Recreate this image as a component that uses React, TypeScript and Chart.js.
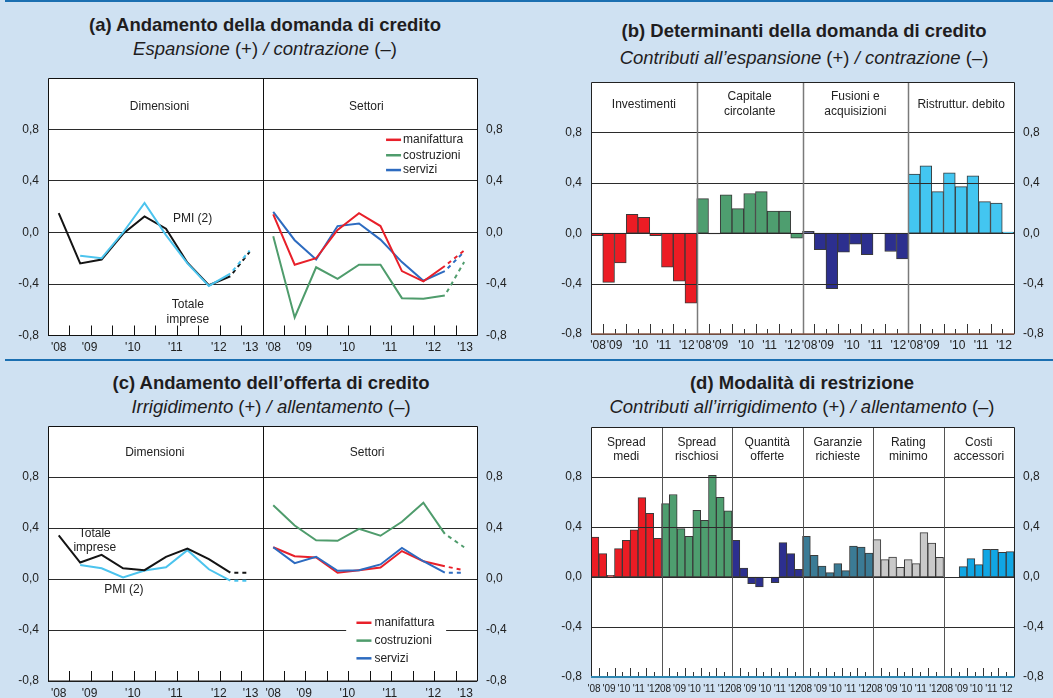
import React, { useEffect, useRef } from 'react';
import { Chart, registerables } from 'chart.js';

Chart.register(...registerables);

const FONT = '"Liberation Sans", Arial, Helvetica, sans-serif';
Chart.defaults.font.family = FONT;
Chart.defaults.font.size = 12;
Chart.defaults.color = '#222';

// ---------------- data ----------------
// half-year observation times (mid-points) and the forecast point
const periods = [2008.25, 2008.75, 2009.25, 2009.75, 2010.25, 2010.75, 2011.25, 2011.75, 2012.25];
const forecastPeriod = 2012.7;

const yTickValues = [-0.8, -0.4, 0, 0.4, 0.8];
const yearLabelsLine = ["'08", "'09", "'10", "'11", "'12", "'13"];
const yearLabelsBar = ["'08", "'09", "'10", "'11", "'12"];

// (a) demand – by size
const demTotale = [0.15, -0.24, -0.21, -0.01, 0.125, 0.03, -0.235, -0.41, -0.34];
const demTotaleForecast = -0.15;
const demPMI = [null, -0.18, -0.2, 0.0, 0.23, -0.02, -0.24, -0.415, -0.32];
const demPMIForecast = -0.14;
// (a) demand – by sector
const demManifattura = [0.14, -0.25, -0.2, 0.02, 0.15, 0.05, -0.3, -0.38, -0.26];
const demManifatturaForecast = -0.14;
const demCostruzioni = [-0.03, -0.66, -0.27, -0.36, -0.25, -0.25, -0.51, -0.515, -0.49];
const demCostruzioniForecast = -0.23;
const demServizi = [0.16, -0.06, -0.21, 0.05, 0.07, -0.055, -0.23, -0.375, -0.3];
const demServiziForecast = -0.15;

// (b) determinants of demand
const detGroupNames = [['Investimenti'], ['Capitale', 'circolante'], ['Fusioni e', 'acquisizioni'], ['Ristruttur. debito']];
const detInvestimenti = [-0.02, -0.39, -0.235, 0.15, 0.125, -0.02, -0.27, -0.38, -0.555];
const detCapitale = [0.275, -0.005, 0.305, 0.195, 0.315, 0.33, 0.175, 0.175, -0.04];
const detFusioni = [0.015, -0.13, -0.44, -0.15, -0.087, -0.17, 0, -0.145, -0.205];
const detRistrutturazione = [0.47, 0.535, 0.33, 0.48, 0.37, 0.455, 0.25, 0.24, 0.008];

// (c) supply – by size
const offTotale = [0.343, 0.13, 0.19, 0.085, 0.07, 0.175, 0.24, 0.157, 0.05];
const offTotaleForecast = 0.05;
const offPMI = [null, 0.11, 0.085, 0.013, 0.067, 0.093, 0.227, 0.077, -0.013];
const offPMIForecast = -0.013;
// (c) supply – by sector
const offManifattura = [0.25, 0.18, 0.17, 0.05, 0.07, 0.09, 0.22, 0.14, 0.1];
const offManifatturaForecast = 0.07;
const offCostruzioni = [0.58, 0.42, 0.305, 0.3, 0.395, 0.34, 0.45, 0.6, 0.355];
const offCostruzioniForecast = 0.25;
const offServizi = [0.25, 0.125, 0.175, 0.065, 0.07, 0.115, 0.245, 0.14, 0.05];
const offServiziForecast = 0.05;

// (d) restriction modes
const resGroupNames = [['Spread', 'medi'], ['Spread', 'rischiosi'], ['Quantità', 'offerte'], ['Garanzie', 'richieste'], ['Rating', 'minimo'], ['Costi', 'accessori']];
const resSpreadMedi = [0.32, 0.187, 0.013, 0.227, 0.293, 0.378, 0.635, 0.51, 0.31];
const resSpreadRischiosi = [0.587, 0.66, 0.387, 0.325, 0.533, 0.453, 0.813, 0.637, 0.53];
const resQuantita = [0.293, 0.072, -0.053, -0.08, null, -0.045, 0.275, 0.187, 0.061];
const resGaranzie = [0.325, 0.173, 0.088, 0.035, 0.107, 0.051, 0.248, 0.24, 0.192];
const resRating = [0.299, 0.139, 0.16, 0.077, 0.139, 0.107, 0.355, 0.272, 0.157];
const resCosti = [null, null, 0.083, 0.147, 0.099, 0.221, 0.221, 0.197, 0.203];

// ---------------- styles ----------------
const BG = '#cfe1f2';
const RULE = '#1b6fb1';
const C_RED = '#e8202a';
const C_GREEN = '#4f9c6c';
const C_BLUE = '#2d6bc0';
const C_PMI = '#4cc4ee';
const C_BLACK = '#141414';

const lineLabelPos = [0.25, 0.97, 1.98, 2.97, 3.98, 4.72];
const barLabelPosB = [0.6, 2.0, 4.2, 6.2, 8.15];
const barLabelPosD = [0.4, 2.3, 4.2, 6.1, 8.0];
const BARS_PER_GROUP = 9;

const fmt = (v: number) => (Math.abs(v) < 1e-9 ? '0,0' : v.toFixed(1).replace('.', ','));

function yScales(leftW: number, rightW: number, grid: boolean) {
  const make = (pos: 'left' | 'right') => ({
    type: 'linear',
    position: pos,
    min: -0.8,
    max: 1.2,
    afterBuildTicks: (s: any) => {
      s.ticks = yTickValues.map((v) => ({ value: v }));
    },
    afterFit: (s: any) => {
      s.width = pos === 'left' ? leftW : rightW;
    },
    ticks: { callback: (v: number) => fmt(v), padding: 9, font: { size: 12, family: FONT }, color: '#222' },
    grid: { display: grid && pos === 'left', drawTicks: false, color: '#2b2b2b', lineWidth: 1 },
    border: { display: false },
  });
  return { y: make('left'), y2: make('right') };
}

function xScale(max: number, pos: number[], labels: string[], h: number, pad: number, size: number) {
  return {
    type: 'linear',
    min: 0,
    max,
    offset: false,
    afterBuildTicks: (s: any) => {
      s.ticks = pos.map((v) => ({ value: v }));
    },
    afterFit: (s: any) => {
      s.height = h;
    },
    ticks: {
      autoSkip: false,
      maxRotation: 0,
      minRotation: 0,
      padding: pad,
      font: { size, family: FONT },
      color: '#222',
      callback: (_v: any, i: number) => labels[i],
    },
    grid: { display: false, drawTicks: false, offset: false },
    border: { display: false },
  };
}

function lineSeries(label: string, vals: (number | null)[], fc: number, color: string, half: number) {
  const off = half * 5;
  const pts: any[] = periods.map((p, i) => ({ x: p - 2008 + off, y: vals[i] }));
  pts.push({ x: forecastPeriod - 2008 + off, y: fc });
  const last = pts.length - 1;
  return {
    type: 'line',
    label,
    data: pts,
    borderColor: color,
    backgroundColor: color,
    borderWidth: 2,
    pointRadius: 0,
    tension: 0,
    spanGaps: false,
    segment: {
      borderDash: (c: any) => (c.p1DataIndex === last ? [4, 4] : undefined),
      borderDashOffset: (c: any) => (c.p1DataIndex === last ? 4 : undefined),
    },
  };
}

function barSeries(label: string, vals: (number | null)[], group: number, color: string) {
  return {
    type: 'bar',
    label,
    data: vals.map((v, i) => ({ x: group * BARS_PER_GROUP + i + 0.5, y: v })),
    backgroundColor: color,
    borderColor: '#3a3a3a',
    borderWidth: 1,
    borderSkipped: false,
    grouped: false,
    categoryPercentage: 1,
    barPercentage: 1,
  };
}

function makeDecor(d: any) {
  return {
    id: 'decor',
    beforeDraw(chart: any) {
      const { ctx, chartArea: a } = chart;
      ctx.save();
      ctx.fillStyle = '#fff';
      ctx.fillRect(a.left, a.top, a.right - a.left, a.bottom - a.top);
      ctx.restore();
    },
    afterDatasetsDraw(chart: any) {
      const { ctx, chartArea: a, scales } = chart;
      const xs = scales.x;
      const ys = scales.y;
      const px = (v: number) => xs.getPixelForValue(v);
      const py = (v: number) => ys.getPixelForValue(v);
      const r = (v: number) => Math.round(v) + 0.5;
      ctx.save();
      if (d.gridOnTop) {
        ctx.strokeStyle = d.gridColor;
        ctx.lineWidth = 1;
        for (const v of yTickValues) {
          const y = r(py(v));
          ctx.beginPath();
          ctx.moveTo(a.left, y);
          ctx.lineTo(a.right, y);
          ctx.stroke();
        }
      }
      ctx.strokeStyle = d.tickColor;
      ctx.lineWidth = 1;
      for (const t of d.innerTicks) {
        const x = r(px(t.x));
        ctx.beginPath();
        ctx.moveTo(x, a.bottom);
        ctx.lineTo(x, a.bottom - t.len);
        ctx.stroke();
      }
      ctx.strokeStyle = d.dividerColor;
      ctx.lineWidth = d.dividerWidth;
      for (const v of d.dividers) {
        const x = r(px(v));
        ctx.beginPath();
        ctx.moveTo(x, a.top);
        ctx.lineTo(x, a.bottom);
        ctx.stroke();
      }
      if (d.legend && d.legend.box) {
        const b = d.legend.box;
        ctx.fillStyle = '#fff';
        ctx.fillRect(px(b.x0), py(b.y0), px(b.x1) - px(b.x0), py(b.y1) - py(b.y0));
      }
      ctx.fillStyle = '#222';
      ctx.font = `12px ${FONT}`;
      ctx.textAlign = 'center';
      ctx.textBaseline = 'middle';
      for (const h of d.headers) {
        const n = h.lines.length;
        h.lines.forEach((s: string, k: number) => {
          ctx.fillText(s, px(h.x), py(h.y) + (k - (n - 1) / 2) * h.lh);
        });
      }
      for (const n of d.notes) ctx.fillText(n.text, px(n.x), py(n.y));
      if (d.legend) {
        const L = d.legend;
        ctx.textAlign = 'left';
        L.items.forEach((it: any, k: number) => {
          const x0 = px(L.x);
          const y0 = py(L.ys[k]);
          ctx.strokeStyle = it.color;
          ctx.lineWidth = 2.5;
          ctx.beginPath();
          ctx.moveTo(x0, y0);
          ctx.lineTo(x0 + L.lineLen, y0);
          ctx.stroke();
          ctx.fillStyle = '#222';
          ctx.fillText(it.label, x0 + L.textGap, y0);
        });
      }
      ctx.strokeStyle = d.borderColor;
      ctx.lineWidth = 1;
      ctx.beginPath();
      ctx.moveTo(r(a.left), a.bottom);
      ctx.lineTo(r(a.left), r(a.top));
      ctx.lineTo(r(a.right), r(a.top));
      ctx.lineTo(r(a.right), a.bottom);
      ctx.stroke();
      ctx.strokeStyle = d.bottomColor;
      ctx.lineWidth = d.bottomWidth;
      ctx.beginPath();
      ctx.moveTo(a.left, a.bottom);
      ctx.lineTo(a.right + 0.5, a.bottom);
      ctx.stroke();
      ctx.restore();
    },
  };
}

function lineTicks() {
  const out: any[] = [];
  for (let h = 0; h < 2; h++) for (let k = 1; k <= 9; k++) out.push({ x: h * 5 + k * 0.5, len: 10 });
  return out;
}

function barTicks(groups: number, tall: number) {
  const out: any[] = [];
  for (let g = 0; g < groups; g++)
    for (let k = 1; k < BARS_PER_GROUP; k++) out.push({ x: g * BARS_PER_GROUP + k, len: k % 2 ? tall : 5 });
  return out;
}

function baseOptions(padTop: number, scales: any) {
  return {
    responsive: false,
    animation: false,
    devicePixelRatio: 1,
    layout: { padding: { top: padTop, left: 0, right: 0, bottom: 0 } },
    plugins: { legend: { display: false }, tooltip: { enabled: false }, title: { display: false } },
    scales,
  };
}

const sectorLegend = [
  { label: 'manifattura', color: C_RED },
  { label: 'costruzioni', color: C_GREEN },
  { label: 'servizi', color: C_BLUE },
];

function configA() {
  const pos = [...lineLabelPos, ...lineLabelPos.map((v) => v + 5)];
  const labels = [...yearLabelsLine, ...yearLabelsLine];
  return {
    type: 'line',
    data: {
      datasets: [
        lineSeries('PMI (2)', demPMI, demPMIForecast, C_PMI, 0),
        lineSeries('Totale imprese', demTotale, demTotaleForecast, C_BLACK, 0),
        lineSeries('manifattura', demManifattura, demManifatturaForecast, C_RED, 1),
        lineSeries('servizi', demServizi, demServiziForecast, C_BLUE, 1),
        lineSeries('costruzioni', demCostruzioni, demCostruzioniForecast, C_GREEN, 1),
      ],
    },
    options: baseOptions(18, { x: xScale(10, pos, labels, 24.5, 5, 12), ...yScales(48, 53, true) }),
    plugins: [
      makeDecor({
        dividers: [5],
        dividerColor: '#111',
        dividerWidth: 1,
        innerTicks: lineTicks(),
        tickColor: '#111',
        headers: [
          { x: 2.6, y: 0.98, lines: ['Dimensioni'], lh: 15 },
          { x: 7.42, y: 0.98, lines: ['Settori'], lh: 15 },
        ],
        notes: [
          { x: 3.37, y: 0.11, text: 'PMI (2)' },
          { x: 3.26, y: -0.557, text: 'Totale' },
          { x: 3.26, y: -0.674, text: 'imprese' },
        ],
        legend: { x: 7.88, ys: [0.72, 0.6, 0.485], lineLen: 15, textGap: 17, items: sectorLegend },
        borderColor: '#111',
        bottomColor: '#111',
        bottomWidth: 1,
      }),
    ],
  };
}

function configC() {
  const pos = [...lineLabelPos, ...lineLabelPos.map((v) => v + 5)];
  const labels = [...yearLabelsLine, ...yearLabelsLine];
  return {
    type: 'line',
    data: {
      datasets: [
        lineSeries('Totale imprese', offTotale, offTotaleForecast, C_BLACK, 0),
        lineSeries('PMI (2)', offPMI, offPMIForecast, C_PMI, 0),
        lineSeries('servizi', offServizi, offServiziForecast, C_BLUE, 1),
        lineSeries('manifattura', offManifattura, offManifatturaForecast, C_RED, 1),
        lineSeries('costruzioni', offCostruzioni, offCostruzioniForecast, C_GREEN, 1),
      ],
    },
    options: baseOptions(13, { x: xScale(10, pos, labels, 17, 5, 12), ...yScales(48, 53, true) }),
    plugins: [
      makeDecor({
        dividers: [5],
        dividerColor: '#111',
        dividerWidth: 1,
        innerTicks: lineTicks(),
        tickColor: '#111',
        headers: [
          { x: 2.49, y: 0.99, lines: ['Dimensioni'], lh: 15 },
          { x: 7.44, y: 0.99, lines: ['Settori'], lh: 15 },
        ],
        notes: [
          { x: 1.09, y: 0.354, text: 'Totale' },
          { x: 1.09, y: 0.245, text: 'imprese' },
          { x: 1.77, y: -0.08, text: 'PMI (2)' },
        ],
        legend: {
          x: 7.19,
          ys: [-0.343, -0.483, -0.622],
          lineLen: 15,
          textGap: 18,
          items: sectorLegend,
          box: { x0: 6.95, x1: 9.28, y0: -0.27, y1: -0.72 },
        },
        borderColor: '#111',
        bottomColor: '#111',
        bottomWidth: 1,
      }),
    ],
  };
}

function configB() {
  const groups = detGroupNames.length;
  const pos: number[] = [];
  const labels: string[] = [];
  for (let g = 0; g < groups; g++)
    barLabelPosB.forEach((p, i) => {
      pos.push(g * BARS_PER_GROUP + p);
      labels.push(yearLabelsBar[i]);
    });
  return {
    type: 'bar',
    data: {
      datasets: [
        barSeries('Investimenti', detInvestimenti, 0, '#ec1c24'),
        barSeries('Capitale circolante', detCapitale, 1, '#4e9e6f'),
        barSeries('Fusioni e acquisizioni', detFusioni, 2, '#2c2f8f'),
        barSeries('Ristruttur. debito', detRistrutturazione, 3, '#43c6f1'),
      ],
    },
    options: baseOptions(22, {
      x: xScale(groups * BARS_PER_GROUP, pos, labels, 26, 4, 12),
      ...yScales(61, 39, false),
    }),
    plugins: [
      makeDecor({
        gridOnTop: true,
        gridColor: '#2b2b2b',
        dividers: [9, 18, 27],
        dividerColor: '#7a7a7a',
        dividerWidth: 1.5,
        innerTicks: barTicks(groups, 10),
        tickColor: '#333',
        headers: detGroupNames.map((lines, g) => ({ x: g * BARS_PER_GROUP + 4.5, y: 1.02, lines, lh: 15 })),
        notes: [],
        borderColor: '#222',
        bottomColor: '#8a5a48',
        bottomWidth: 1.5,
      }),
    ],
  };
}

function configD() {
  const groups = resGroupNames.length;
  const pos: number[] = [];
  const labels: string[] = [];
  for (let g = 0; g < groups; g++)
    barLabelPosD.forEach((p, i) => {
      pos.push(g * BARS_PER_GROUP + p);
      labels.push(yearLabelsBar[i]);
    });
  return {
    type: 'bar',
    data: {
      datasets: [
        barSeries('Spread medi', resSpreadMedi, 0, '#ec1c24'),
        barSeries('Spread rischiosi', resSpreadRischiosi, 1, '#4e9e6f'),
        barSeries('Quantità offerte', resQuantita, 2, '#2c2f8f'),
        barSeries('Garanzie richieste', resGaranzie, 3, '#3b7b95'),
        barSeries('Rating minimo', resRating, 4, '#c9c9c9'),
        barSeries('Costi accessori', resCosti, 5, '#10a6e4'),
      ],
    },
    options: baseOptions(17, {
      x: xScale(groups * BARS_PER_GROUP, pos, labels, 21, 6, 10),
      ...yScales(61, 39, false),
    }),
    plugins: [
      makeDecor({
        gridOnTop: true,
        gridColor: '#2b2b2b',
        dividers: [9, 18, 27, 36, 45],
        dividerColor: '#555',
        dividerWidth: 1,
        innerTicks: barTicks(groups, 9),
        tickColor: '#333',
        headers: resGroupNames.map((lines, g) => ({ x: g * BARS_PER_GROUP + 4.5, y: 1.02, lines, lh: 13.5 })),
        notes: [],
        borderColor: '#222',
        bottomColor: '#2f86b0',
        bottomWidth: 2,
      }),
    ],
  };
}

function ChartCanvas(props: { make: () => any; left: number; top: number; width: number; height: number }) {
  const ref = useRef<HTMLCanvasElement>(null);
  useEffect(() => {
    const chart = new Chart(ref.current as HTMLCanvasElement, props.make());
    return () => chart.destroy();
  }, []);
  return (
    <canvas
      ref={ref}
      width={props.width}
      height={props.height}
      style={{ position: 'absolute', left: props.left, top: props.top, width: props.width, height: props.height }}
    />
  );
}

function Title(props: { cx: number; t1: number; t2: number; title: string; sub: React.ReactNode }) {
  const common: React.CSSProperties = {
    position: 'absolute',
    left: props.cx - 300,
    width: 600,
    textAlign: 'center',
    fontSize: 18.5,
    lineHeight: '18.5px',
    color: '#1f1d1e',
    whiteSpace: 'nowrap',
    fontFamily: FONT,
  };
  return (
    <>
      <div style={{ ...common, top: props.t1 - 10.9, fontWeight: 'bold' }}>{props.title}</div>
      <div style={{ ...common, top: props.t2 - 10.9 }}>{props.sub}</div>
    </>
  );
}

const I = (p: { children: React.ReactNode }) => <span style={{ fontStyle: 'italic' }}>{p.children}</span>;

export default function App() {
  return (
    <div
      style={{
        position: 'fixed',
        left: 0,
        top: 0,
        width: 1053,
        height: 698,
        background: BG,
        overflow: 'hidden',
        fontFamily: FONT,
      }}
    >
      <div style={{ position: 'absolute', left: 5, top: 0, width: 1048, height: 2, background: RULE }} />
      <div style={{ position: 'absolute', left: 5, top: 359, width: 1048, height: 2, background: RULE }} />
      <Title
        cx={265}
        t1={26.7}
        t2={51}
        title="(a) Andamento della domanda di credito"
        sub={
          <>
            <I>Espansione</I> (+) <I>/ contrazione</I> (–)
          </>
        }
      />
      <Title
        cx={804}
        t1={32.5}
        t2={60}
        title="(b) Determinanti della domanda di credito"
        sub={
          <>
            <I>Contributi all’espansione</I> (+) <I>/ contrazione</I> (–)
          </>
        }
      />
      <Title
        cx={271}
        t1={385.3}
        t2={409}
        title="(c) Andamento dell’offerta di credito"
        sub={
          <>
            <I>Irrigidimento</I> (+) <I>/ allentamento</I> (–)
          </>
        }
      />
      <Title
        cx={802}
        t1={385.3}
        t2={409}
        title="(d) Modalità di restrizione"
        sub={
          <>
            <I>Contributi all’irrigidimento</I> (+) <I>/ allentamento</I> (–)
          </>
        }
      />
      <ChartCanvas make={configA} left={0} top={60} width={530} height={300} />
      <ChartCanvas make={configB} left={530} top={60} width={523} height={300} />
      <ChartCanvas make={configC} left={0} top={410} width={530} height={288} />
      <ChartCanvas make={configD} left={530} top={410} width={523} height={288} />
    </div>
  );
}
